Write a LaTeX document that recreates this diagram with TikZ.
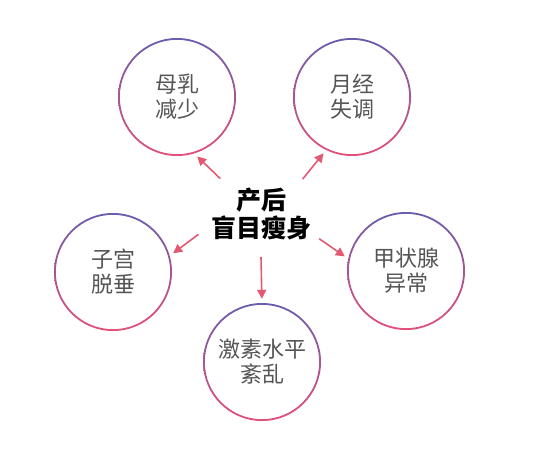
\documentclass[tikz,border=0pt]{standalone}
\usepackage{fontspec}
\usepackage{xcolor}
\usetikzlibrary{shapes.geometric,arrows.meta,positioning}
\newfontfamily\cjk{Noto Sans CJK SC}
\definecolor{ringtop}{HTML}{6A5CAE}
\definecolor{ringbot}{HTML}{E4507A}
\definecolor{arrowred}{HTML}{E45872}
\definecolor{txtgray}{HTML}{555555}

\begin{document}
\begin{tikzpicture}[x=1pt,y=-1pt,
  bubble/.style={circle,minimum size=118pt,inner sep=0pt,align=center,text=txtgray,
    font=\cjk\fontsize{22}{25}\selectfont,
    path picture={\shade[top color=ringtop,bottom color=ringbot,even odd rule]
      (path picture bounding box.center) circle (59pt) circle (57.2pt);}},
  arr/.style={arrowred,line width=1.6pt,shorten >=4pt,-{Triangle[length=9pt,width=9pt]}}]
\useasboundingbox (0,0) rectangle (540,451);

% Center text
\node[ellipse,minimum width=116pt,minimum height=86pt,inner sep=0pt,align=center,
  font=\cjk\bfseries\fontsize{25}{28}\selectfont] (src) at (261,214) {产后\\盲目瘦身};

% Outer circles
\node[bubble] (milk) at (177,97) {母乳\\减少};
\node[bubble] (cycle) at (352,97) {月经\\失调};
\node[bubble] (uterus) at (113,272) {子宫\\脱垂};
\node[bubble] (thyroid) at (406,271) {甲状腺\\异常};
\node[bubble] (hormone) at (262,362) {激素水平\\紊乱};

% Arrows
\draw[arr] (src.139) -- (milk.287);
\draw[arr] (src.40) -- (cycle.244);
\draw[arr] (src.198) -- (uterus.16);
\draw[arr] (src.-23) -- (thyroid.168);
\draw[arr] (src.270) -- (hormone.90);
\end{tikzpicture}
\end{document}
